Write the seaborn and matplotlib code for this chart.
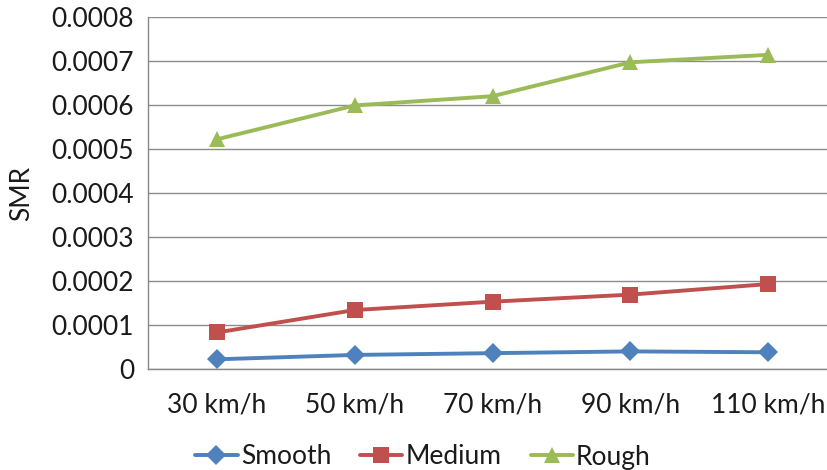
import pandas as pd
import matplotlib
matplotlib.use("Agg")
import matplotlib.pyplot as plt
import seaborn as sns

# values
speeds = ["30 km/h", "50 km/h", "70 km/h", "90 km/h", "110 km/h"]
smooth = [0.000022, 0.000032, 0.000036, 0.000040, 0.000038]
medium = [0.000083, 0.000134, 0.000153, 0.000169, 0.000193]
rough = [0.000522, 0.000599, 0.000620, 0.000697, 0.000714]
y_ticks = [0.0, 0.0001, 0.0002, 0.0003, 0.0004, 0.0005, 0.0006, 0.0007, 0.0008]
y_tick_labels = ["0", "0.0001", "0.0002", "0.0003", "0.0004",
                 "0.0005", "0.0006", "0.0007", "0.0008"]

# long format for seaborn
df = pd.DataFrame({
    "Speed": speeds * 3,
    "Surface": ["Smooth"] * 5 + ["Medium"] * 5 + ["Rough"] * 5,
    "SMR": smooth + medium + rough,
})
df["pos"] = df["Speed"].map({s: i for i, s in enumerate(speeds)})

sns.set_style("white")
plt.rcParams["font.family"] = ["Lato", "DejaVu Sans"]

palette = {"Smooth": "#4F81BD", "Medium": "#C0504D", "Rough": "#9BBB59"}
markers = {"Smooth": "D", "Medium": "s", "Rough": "^"}
msizes = {"Smooth": 10, "Medium": 11, "Rough": 12}

fig = plt.figure(figsize=(8.27, 4.70), dpi=100)
ax = fig.add_axes([148 / 827, 1 - 369 / 470, (837 - 148) / 827, (369 - 17) / 470])

for name in ["Smooth", "Medium", "Rough"]:
    sub = df[df["Surface"] == name]
    sns.lineplot(data=sub, x="pos", y="SMR", color=palette[name], marker=markers[name],
                 markersize=msizes[name], markeredgewidth=0,
                 linewidth=2.8, label=name, ax=ax)

ax.set_xlim(-0.5, 4.5)
ax.set_ylim(0, 0.0008)
ax.set_xticks(range(len(speeds)))
ax.set_xticklabels(speeds, fontsize=19, color="#1a1a1a")
ax.set_yticks(y_ticks)
ax.set_yticklabels(y_tick_labels, fontsize=19, color="#1a1a1a")
ax.tick_params(axis="x", length=0, pad=17)
ax.tick_params(axis="y", length=5, width=1, color="#888888", pad=5)
ax.set_xlabel("")
ax.set_ylabel("SMR", fontsize=19, color="#1a1a1a")
ax.yaxis.set_label_coords(-114 / 689, 0.5)

ax.yaxis.grid(True, color="#8c8c8c", linewidth=1)
ax.set_axisbelow(True)
for side in ["top", "right"]:
    ax.spines[side].set_visible(False)
for side in ["left", "bottom"]:
    ax.spines[side].set_color("#888888")
    ax.spines[side].set_linewidth(1)

ax.legend(loc="center", bbox_to_anchor=(423 / 827, 1 - 457 / 470),
          bbox_transform=fig.transFigure, ncol=3, frameon=False,
          fontsize=19, handlelength=1.6, handletextpad=0.12, columnspacing=1.1,
          labelcolor="#1a1a1a")

fig.savefig("out.png", dpi=100)
